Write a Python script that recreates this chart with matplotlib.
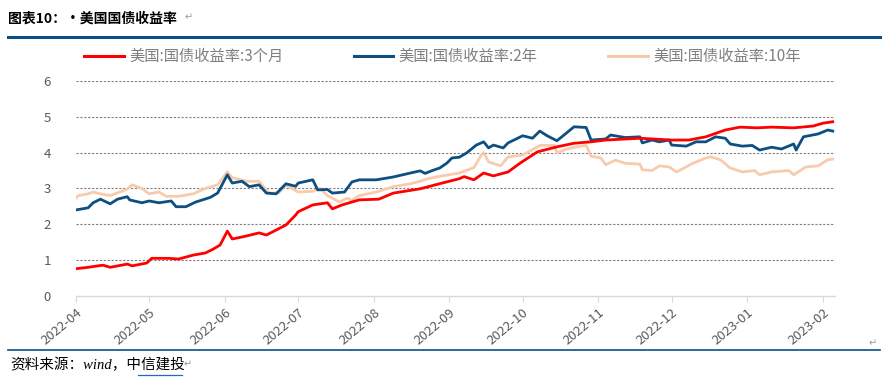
import pandas as pd
import matplotlib.pyplot as plt
import matplotlib.dates as mdates
from matplotlib.lines import Line2D

plt.rcParams['font.family'] = ['Noto Sans CJK SC', 'DejaVu Sans']

# === DATA ===
dates_3m = ['2022-04-01', '2022-04-06', '2022-04-12', '2022-04-15', '2022-04-22', '2022-04-24',
            '2022-04-30', '2022-05-02', '2022-05-09', '2022-05-13', '2022-05-19', '2022-05-24',
            '2022-05-27', '2022-05-30', '2022-06-02', '2022-06-04', '2022-06-09', '2022-06-15',
            '2022-06-18', '2022-06-26', '2022-06-30', '2022-07-01', '2022-07-07', '2022-07-13',
            '2022-07-15', '2022-07-19', '2022-07-26', '2022-08-03', '2022-08-09', '2022-08-20',
            '2022-08-29', '2022-09-05', '2022-09-07', '2022-09-11', '2022-09-15', '2022-09-19',
            '2022-09-25', '2022-09-30', '2022-10-07', '2022-10-15', '2022-10-22', '2022-10-29',
            '2022-11-04', '2022-11-18', '2022-12-01', '2022-12-08', '2022-12-15', '2022-12-23',
            '2022-12-29', '2023-01-05', '2023-01-11', '2023-01-20', '2023-01-28', '2023-02-01',
            '2023-02-05']
yield_3m = [0.76, 0.80, 0.86, 0.80, 0.89, 0.84,
            0.92, 1.05, 1.05, 1.03, 1.14, 1.20,
            1.30, 1.42, 1.81, 1.59, 1.66, 1.76,
            1.70, 1.98, 2.26, 2.35, 2.54, 2.60,
            2.43, 2.54, 2.68, 2.70, 2.87, 2.99,
            3.15, 3.27, 3.33, 3.24, 3.43, 3.35,
            3.46, 3.71, 4.02, 4.16, 4.26, 4.30,
            4.35, 4.40, 4.35, 4.35, 4.44, 4.63,
            4.71, 4.69, 4.71, 4.69, 4.74, 4.82,
            4.86]

dates_2y = ['2022-04-01', '2022-04-06', '2022-04-08', '2022-04-11', '2022-04-15', '2022-04-18',
            '2022-04-22', '2022-04-23', '2022-04-28', '2022-05-01', '2022-05-05', '2022-05-10',
            '2022-05-12', '2022-05-16', '2022-05-20', '2022-05-26', '2022-05-29', '2022-06-02',
            '2022-06-04', '2022-06-08', '2022-06-11', '2022-06-15', '2022-06-18', '2022-06-22',
            '2022-06-26', '2022-06-30', '2022-07-01', '2022-07-07', '2022-07-09', '2022-07-13',
            '2022-07-15', '2022-07-20', '2022-07-23', '2022-07-26', '2022-08-02', '2022-08-09',
            '2022-08-16', '2022-08-20', '2022-08-22', '2022-08-25', '2022-08-28', '2022-08-31',
            '2022-09-02', '2022-09-05', '2022-09-08', '2022-09-12', '2022-09-15', '2022-09-17',
            '2022-09-19', '2022-09-23', '2022-09-25', '2022-10-01', '2022-10-05', '2022-10-08',
            '2022-10-11', '2022-10-15', '2022-10-19', '2022-10-22', '2022-10-27', '2022-10-29',
            '2022-11-04', '2022-11-06', '2022-11-12', '2022-11-18', '2022-11-19', '2022-11-23',
            '2022-11-26', '2022-11-30', '2022-12-01', '2022-12-07', '2022-12-11', '2022-12-15',
            '2022-12-19', '2022-12-23', '2022-12-25', '2022-12-30', '2023-01-03', '2023-01-06',
            '2023-01-11', '2023-01-15', '2023-01-20', '2023-01-21', '2023-01-24', '2023-01-30',
            '2023-02-03', '2023-02-05']
yield_2y = [2.40, 2.46, 2.60, 2.70, 2.57, 2.70,
            2.77, 2.68, 2.60, 2.65, 2.60, 2.65,
            2.49, 2.49, 2.62, 2.75, 2.87, 3.38,
            3.15, 3.20, 3.05, 3.10, 2.87, 2.85,
            3.13, 3.06, 3.15, 3.24, 2.96, 2.97,
            2.87, 2.90, 3.18, 3.24, 3.24, 3.32,
            3.43, 3.49, 3.42, 3.50, 3.57, 3.71,
            3.85, 3.87, 3.99, 4.21, 4.30, 4.13,
            4.21, 4.13, 4.27, 4.47, 4.40, 4.60,
            4.47, 4.33, 4.55, 4.72, 4.70, 4.35,
            4.38, 4.49, 4.42, 4.44, 4.27, 4.35,
            4.30, 4.35, 4.21, 4.18, 4.30, 4.30,
            4.44, 4.40, 4.24, 4.18, 4.20, 4.07,
            4.15, 4.10, 4.24, 4.07, 4.44, 4.52,
            4.63, 4.60]

dates_10y = ['2022-04-01', '2022-04-02', '2022-04-06', '2022-04-08', '2022-04-11', '2022-04-15',
             '2022-04-22', '2022-04-24', '2022-04-28', '2022-05-01', '2022-05-05', '2022-05-08',
             '2022-05-13', '2022-05-19', '2022-05-24', '2022-05-29', '2022-06-02', '2022-06-04',
             '2022-06-10', '2022-06-15', '2022-06-19', '2022-06-23', '2022-06-26', '2022-07-01',
             '2022-07-07', '2022-07-10', '2022-07-13', '2022-07-18', '2022-07-21', '2022-07-23',
             '2022-07-26', '2022-08-02', '2022-08-09', '2022-08-16', '2022-08-20', '2022-08-23',
             '2022-08-29', '2022-09-05', '2022-09-11', '2022-09-14', '2022-09-15', '2022-09-17',
             '2022-09-22', '2022-09-25', '2022-10-01', '2022-10-07', '2022-10-08', '2022-10-14',
             '2022-10-15', '2022-10-19', '2022-10-23', '2022-10-27', '2022-10-29', '2022-11-02',
             '2022-11-04', '2022-11-08', '2022-11-12', '2022-11-18', '2022-11-19', '2022-11-23',
             '2022-11-26', '2022-11-30', '2022-12-03', '2022-12-07', '2022-12-09', '2022-12-15',
             '2022-12-17', '2022-12-21', '2022-12-25', '2022-12-30', '2023-01-04', '2023-01-06',
             '2023-01-11', '2023-01-18', '2023-01-20', '2023-01-25', '2023-01-30', '2023-02-03',
             '2023-02-05']
yield_10y = [2.73, 2.80, 2.85, 2.90, 2.85, 2.80,
             2.98, 3.10, 3.00, 2.85, 2.90, 2.78,
             2.78, 2.85, 3.00, 3.10, 3.46, 3.30,
             3.20, 3.20, 2.87, 2.88, 3.10, 2.90,
             2.92, 3.00, 2.80, 2.62, 2.73, 2.67,
             2.80, 2.90, 3.05, 3.13, 3.20, 3.27,
             3.35, 3.43, 3.58, 3.93, 4.00, 3.74,
             3.63, 3.88, 3.93, 4.16, 4.20, 4.20,
             3.99, 4.10, 4.16, 4.20, 3.90, 3.85,
             3.66, 3.79, 3.70, 3.68, 3.52, 3.50,
             3.63, 3.60, 3.46, 3.60, 3.68, 3.85,
             3.88, 3.80, 3.57, 3.46, 3.50, 3.38,
             3.46, 3.50, 3.38, 3.60, 3.63, 3.80,
             3.82]

labels = ['美国:国债收益率:3个月', '美国:国债收益率:2年', '美国:国债收益率:10年']
colors = ['#ff0000', '#0d4f80', '#f8cbad']
month_ticks = pd.date_range('2022-04-01', '2023-02-01', freq='MS')

# === PLOT ===
fig = plt.figure(figsize=(8.9, 3.78), dpi=100)
fig.patch.set_facecolor('white')
ax = fig.add_axes([0.0854, 0.217, 0.853, 0.569])

ax.plot(pd.to_datetime(dates_10y), yield_10y, color=colors[2], lw=2.0, zorder=3)
ax.plot(pd.to_datetime(dates_2y), yield_2y, color=colors[1], lw=2.0, zorder=4)
ax.plot(pd.to_datetime(dates_3m), yield_3m, color=colors[0], lw=2.0, zorder=5)

ax.set_ylim(0, 6)
ax.set_xlim(pd.Timestamp('2022-04-01'), pd.Timestamp('2023-02-06'))
ax.set_yticks(range(0, 7))
ax.set_xticks(month_ticks)
ax.xaxis.set_major_formatter(mdates.DateFormatter('%Y-%m'))
plt.setp(ax.get_xticklabels(), rotation=40, ha='right', rotation_mode='anchor')
ax.tick_params(axis='y', length=0, pad=18, labelsize=9.5, labelcolor='#595959')
ax.tick_params(axis='x', length=4, width=0.8, color='#d9d9d9', pad=3,
               labelsize=9.5, labelcolor='#595959')

for v in range(1, 7):
    ax.axhline(v, color='#7f7f7f', lw=0.8, ls=(0, (2, 1.5)), zorder=1)
ax.spines[['top', 'right', 'left']].set_visible(False)
ax.spines['bottom'].set_color('#d9d9d9')
ax.spines['bottom'].set_linewidth(1.0)

handles = [Line2D([], [], color=c, lw=2.2) for c in colors]
fig.legend(handles, labels, loc='center', bbox_to_anchor=(0.497, 0.85), ncol=3,
           frameon=False, fontsize=11, handlelength=2.6, handletextpad=0.35,
           columnspacing=4.6, labelcolor='#7f7f7f')

# header / footer
fig.text(0.009, 0.952, '图表10：·美国国债收益率', fontsize=10, fontweight='bold',
         color='black', va='center')
fig.text(0.207, 0.955, '↵', fontsize=7, color='#9a9a9a', va='center')
fig.add_artist(Line2D([0.009, 0.989], [0.902, 0.902], color='#0d4f80', lw=2.2))
fig.add_artist(Line2D([0.009, 0.989], [0.074, 0.074], color='#0d4f80', lw=1.2))
fig.text(0.976, 0.093, '↵', fontsize=7, color='#9a9a9a', va='center')
fig.text(0.011, 0.034, '资料来源：wind，中信建投', fontsize=10.5, style='italic',
         color='black', va='center', family=['Liberation Serif', 'Noto Sans CJK SC'])
fig.add_artist(Line2D([0.155, 0.204], [0.008, 0.008], color='#2f5fd0', lw=0.9))
fig.text(0.206, 0.036, '↵', fontsize=7, color='#9a9a9a', va='center')

plt.savefig('out.png', dpi=100, facecolor='white')
